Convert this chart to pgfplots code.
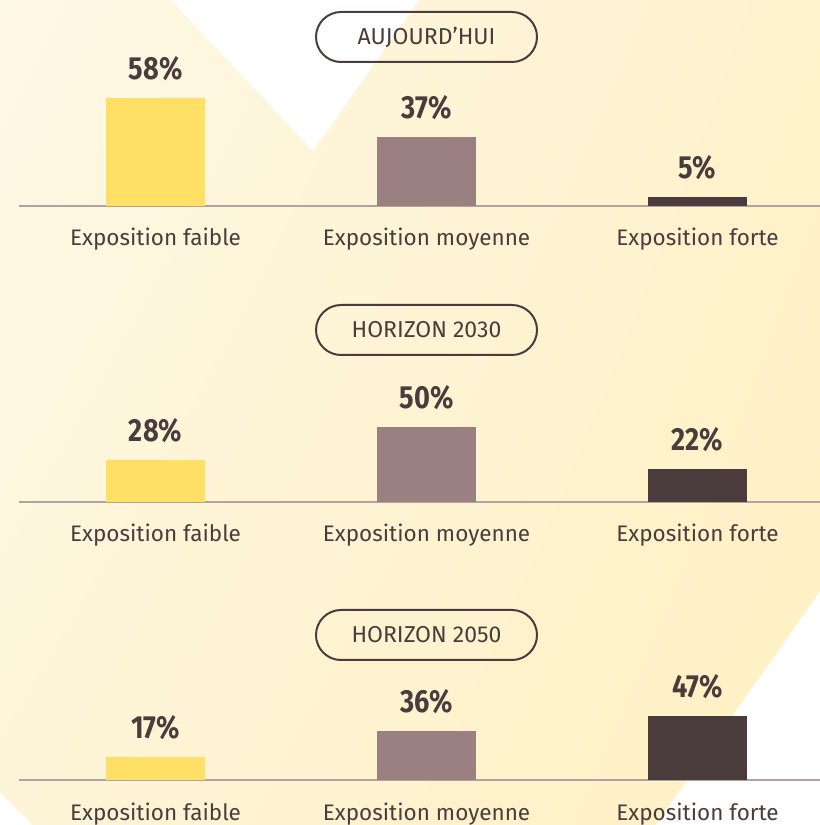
\documentclass[border=0pt]{standalone}
\usepackage{fontspec}
\setmainfont{Fira Sans}
\usepackage{pgfplots}
\pgfplotsset{compat=1.18}
\usetikzlibrary{shadings}
\definecolor{txt}{HTML}{4A3C3C}
\definecolor{cY}{HTML}{FFE066}
\definecolor{cM}{HTML}{9A8080}
\definecolor{cD}{HTML}{4A3C3C}
\definecolor{axl}{HTML}{B4A2A2}
\definecolor{bgUL}{HTML}{FEF8E6}
\definecolor{bgUR}{HTML}{FEF2CC}
\definecolor{bgLL}{HTML}{FEF5D8}
\definecolor{bgLR}{HTML}{FEF0C2}
\newcommand{\pctfont}{\fontsize{32bp}{34bp}\selectfont\bfseries}
\newcommand{\catfont}{\fontsize{22.5bp}{25bp}\selectfont}
\newcommand{\pillfont}{\fontsize{23bp}{25bp}\selectfont}
\pgfplotsset{panel/.style={
  scale only axis, width=801bp, anchor=south west,
  xmin=-0.504, xmax=2.452, ymin=0,
  axis x line*=bottom, axis y line=none, ytick=\empty,
  x axis line style={draw=axl, line width=1.5bp, -},
  xtick={0,1,2},
  xticklabels={Exposition faible, Exposition moyenne, Exposition forte},
  major tick length=0pt,
  xticklabel style={anchor=base, yshift=-40bp, font=\catfont, text=txt},
  ybar, bar width=99bp, bar shift=0pt, clip=false,
  nodes near coords={\scalebox{0.85}[1]{\pctfont\pgfmathprintnumber[assume math mode=true]{\pgfplotspointmeta}\%}},
  every node near coord/.append style={anchor=center, yshift=29bp, text=txt},
}}
\begin{document}
\begin{tikzpicture}
\useasboundingbox (0,0) rectangle (820bp,825bp);
\clip (0,0) rectangle (820bp,825bp);
\shade[upper left=bgUL, upper right=bgUR, lower left=bgLL, lower right=bgLR] (0,0) rectangle (820bp,825bp);
\fill[white] (170bp,826bp) -- (420bp,826bp) -- (313bp,674bp) -- cycle;
\fill[white] (821bp,235bp) -- (655bp,-1bp) -- (821bp,-1bp) -- cycle;
\fill[white] (-1bp,33bp) -- (33bp,-1bp) -- (-1bp,-1bp) -- cycle;

\begin{axis}[panel, at={(19bp,619bp)}, height=108bp, ymax=58]
\addplot[fill=cY, draw=none] coordinates {(0,58)};
\addplot[fill=cM, draw=none] coordinates {(1,37)};
\addplot[fill=cD, draw=none] coordinates {(2,5)};
\end{axis}
\begin{axis}[panel, at={(19bp,323bp)}, height=75bp, ymax=50]
\addplot[fill=cY, draw=none] coordinates {(0,28)};
\addplot[fill=cM, draw=none] coordinates {(1,50)};
\addplot[fill=cD, draw=none] coordinates {(2,22)};
\end{axis}
\begin{axis}[panel, at={(19bp,45bp)}, height=64.5bp, ymax=47]
\addplot[fill=cY, draw=none] coordinates {(0,17)};
\addplot[fill=cM, draw=none] coordinates {(1,36)};
\addplot[fill=cD, draw=none] coordinates {(2,47)};
\end{axis}

\foreach \yc/\lab in {788/AUJOURD’HUI, 495/HORIZON 2030, 190/HORIZON 2050}{
  \draw[txt, line width=2bp, rounded corners=25bp] (316bp,\yc bp+25bp) rectangle (537bp,\yc bp-25bp);
  \node[text=txt, font=\pillfont, anchor=center] at (426.5bp,\yc bp) {\lab};
}
\end{tikzpicture}
\end{document}
